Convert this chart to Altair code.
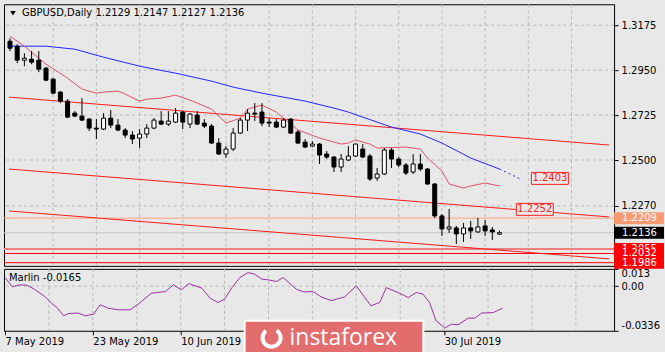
import altair as alt
import pandas as pd

# ---------------- data ----------------
bar_index = list(range(69))
opens = [1.3095, 1.3070, 1.3000, 1.3005, 1.3000, 1.2960, 1.2905, 1.2840, 1.2795, 1.2735,
         1.2720, 1.2705, 1.2660, 1.2655, 1.2710, 1.2675, 1.2650, 1.2625, 1.2610, 1.2630,
         1.2660, 1.2695, 1.2680, 1.2690, 1.2740, 1.2680, 1.2725, 1.2685, 1.2670, 1.2585,
         1.2530, 1.2555, 1.2635, 1.2700, 1.2735, 1.2740, 1.2690, 1.2690, 1.2665, 1.2705,
         1.2640, 1.2590, 1.2570, 1.2580, 1.2530, 1.2515, 1.2465, 1.2500, 1.2520, 1.2555,
         1.2520, 1.2410, 1.2430, 1.2550, 1.2505, 1.2475, 1.2440, 1.2480, 1.2455, 1.2380,
         1.2220, 1.2155, 1.2160, 1.2130, 1.2160, 1.2140, 1.2170, 1.2150, 1.2129]
highs = [1.3110, 1.3080, 1.3035, 1.3045, 1.3045, 1.2965, 1.2910, 1.2845, 1.2805, 1.2745,
         1.2810, 1.2710, 1.2705, 1.2735, 1.2750, 1.2705, 1.2660, 1.2645, 1.2655, 1.2680,
         1.2710, 1.2745, 1.2745, 1.2760, 1.2745, 1.2735, 1.2745, 1.2705, 1.2680, 1.2610,
         1.2570, 1.2660, 1.2710, 1.2755, 1.2785, 1.2785, 1.2710, 1.2705, 1.2710, 1.2710,
         1.2650, 1.2605, 1.2595, 1.2585, 1.2545, 1.2520, 1.2530, 1.2570, 1.2580, 1.2580,
         1.2530, 1.2460, 1.2560, 1.2560, 1.2515, 1.2485, 1.2530, 1.2530, 1.2460, 1.2385,
         1.2230, 1.2255, 1.2170, 1.2185, 1.2195, 1.2210, 1.2200, 1.2165, 1.2147]
lows = [1.3045, 1.2985, 1.2970, 1.2980, 1.2940, 1.2895, 1.2830, 1.2785, 1.2710, 1.2715,
        1.2695, 1.2645, 1.2605, 1.2650, 1.2660, 1.2645, 1.2610, 1.2580, 1.2560, 1.2610,
        1.2655, 1.2675, 1.2670, 1.2685, 1.2655, 1.2660, 1.2675, 1.2660, 1.2580, 1.2525,
        1.2510, 1.2545, 1.2630, 1.2645, 1.2695, 1.2670, 1.2665, 1.2660, 1.2660, 1.2630,
        1.2580, 1.2560, 1.2565, 1.2480, 1.2505, 1.2440, 1.2440, 1.2495, 1.2515, 1.2510,
        1.2395, 1.2395, 1.2425, 1.2460, 1.2465, 1.2425, 1.2430, 1.2445, 1.2375, 1.2210,
        1.2120, 1.2135, 1.2080, 1.2090, 1.2105, 1.2135, 1.2120, 1.2100, 1.2127]
closes = [1.3060, 1.3000, 1.3010, 1.2990, 1.2955, 1.2900, 1.2835, 1.2795, 1.2715, 1.2720,
          1.2700, 1.2660, 1.2655, 1.2710, 1.2675, 1.2650, 1.2625, 1.2605, 1.2630, 1.2660,
          1.2700, 1.2680, 1.2695, 1.2735, 1.2690, 1.2730, 1.2680, 1.2670, 1.2585, 1.2530,
          1.2555, 1.2635, 1.2700, 1.2735, 1.2730, 1.2685, 1.2685, 1.2665, 1.2700, 1.2635,
          1.2585, 1.2565, 1.2580, 1.2525, 1.2515, 1.2465, 1.2505, 1.2520, 1.2580, 1.2515,
          1.2405, 1.2430, 1.2550, 1.2505, 1.2475, 1.2435, 1.2480, 1.2455, 1.2380, 1.2220,
          1.2155, 1.2165, 1.2130, 1.2160, 1.2145, 1.2165, 1.2145, 1.2140, 1.2136]

ma_slow_i = [0, 5, 9, 13, 18, 23, 28, 31, 35, 41, 45, 47, 51, 53, 57, 60, 64, 68]
ma_slow_v = [1.3070, 1.3070, 1.3055, 1.3015, 1.2970, 1.2935, 1.2895, 1.2865, 1.2835, 1.2795,
             1.2760, 1.2740, 1.2690, 1.2665, 1.2630, 1.2585, 1.2510, 1.2455]
ma_proj_i = [68, 71]
ma_proj_v = [1.2455, 1.2403]

ma_fast_i = [0, 2, 5, 8, 10, 12, 13, 15, 16, 18, 19, 21, 23, 25, 28, 30, 32, 33, 35, 37,
             38, 40, 43, 46, 47, 48, 50, 51, 55, 57, 58, 60, 61, 63, 64, 66, 68]
ma_fast_v = [1.3120, 1.3070, 1.2980, 1.2910, 1.2855, 1.2835, 1.2840, 1.2845, 1.2830, 1.2795,
             1.2805, 1.2810, 1.2825, 1.2800, 1.2755, 1.2685, 1.2710, 1.2755, 1.2775, 1.2740,
             1.2710, 1.2650, 1.2610, 1.2580, 1.2585, 1.2600, 1.2580, 1.2560, 1.2565, 1.2555,
             1.2510, 1.2445, 1.2380, 1.2360, 1.2370, 1.2385, 1.2370]

channel_i = [-0.14, 83.22]
channel_upper = [1.2815, 1.2575]
channel_middle = [1.2455, 1.2215]
channel_lower = [1.2245, 1.2005]

level_values = [1.2209, 1.2136, 1.2055, 1.2032, 1.1986]
level_labels = ["1.2209", "1.2136", "1.2055", "1.2032", "1.1986"]
level_line_colors = ["#ffa07a", "#c4c4c4", "#f08080", "#ff0000", "#ff0000"]
level_line_widths = [1, 1, 2, 1, 1]
level_box_colors = ["#f79a72", "#000000", "#ff0000", "#ff0000", "#ff0000"]

annotation_labels = ["1.2403", "1.2252"]
annotation_i = [75.0, 72.9]
annotation_price = [1.2408, 1.2253]

price_ticks = [1.3175, 1.2950, 1.2725, 1.2500, 1.2270]
grid_index = [6, 12, 18, 24, 30, 36, 42, 48, 54, 60, 66, 72, 78]
# date labels visible in the picture (the two between 10 Jun and 30 Jul lie under the logo)
date_tick_index = [0, 12, 24, 60]
date_tick_labels = ["7 May 2019", "23 May 2019", "10 Jun 2019", "30 Jul 2019"]

marlin_i = [0, 1, 2, 3, 4, 5.5, 6.4, 7.1, 8, 8.7, 10, 11, 12.1, 13, 14.1, 15.5, 17.1, 18.2,
            20, 21.9, 23, 24.1, 25.1, 26.9, 28, 29.1, 30, 31, 32.1, 33.2, 34.1, 35.1, 36,
            37.1, 38, 39.8, 40.8, 42.1, 43.2, 44.6, 46.4, 48, 50, 51.2, 52.1, 53.7, 55.1,
            56.2, 57.1, 58, 58.9, 60.1, 61, 61.9, 63.3, 64.2, 65.1, 66.7, 68]
marlin_v = [0.0065, -0.0005, 0.0010, 0.0007, -0.0023, -0.0081, -0.0131, -0.0161, -0.0223,
            -0.0206, -0.0203, -0.0223, -0.0211, -0.0141, -0.0166, -0.0178, -0.0178, -0.0135,
            -0.0053, -0.0041, 0.0010, -0.0028, 0.0019, -0.0015, -0.0090, -0.0123, -0.0098,
            -0.0011, 0.0065, 0.0102, 0.0090, 0.0053, 0.0047, 0.0035, 0.0065, -0.0023,
            -0.0043, -0.0041, -0.0081, -0.0109, -0.0081, 0.0002, -0.0148, -0.0123, -0.0011,
            -0.0048, -0.0086, -0.0048, -0.0060, -0.0123, -0.0261, -0.0316, -0.0286, -0.0291,
            -0.0241, -0.0241, -0.0203, -0.0199, -0.0166]
marlin_ticks = [0.013, 0.0, -0.0336]
marlin_tick_labels = ["0.013", "0.00", "-0.0336"]

title_text = "GBPUSD,Daily  1.2129 1.2147 1.2127 1.2136"
marlin_title = "Marlin -0.0165"
watermark_text = "instaforex"

# ---------------- styling ----------------
FONT = "DejaVu Sans"
BG = "#e8e8e8"
GRID = "#b8b8b8"
W = 611
H_MAIN = 262
H_SUB = 62

xs = alt.Scale(domain=[-0.14, 83.22], nice=False, zero=False)
ys = alt.Scale(domain=[1.1970, 1.3280], nice=False, zero=False)
ms = alt.Scale(domain=[-0.0336, 0.013], nice=False, zero=False)

price_axis = alt.Axis(
    orient="right", values=price_ticks, format=".4f", grid=False, domain=False,
    tickSize=4, tickColor="black", labelPadding=3, labelFont=FONT, labelFontSize=10,
    labelColor="black", title=None, labelOverlap=False)

x_label_expr = " : ".join(
    f"datum.value == {i} ? '{t}'" for i, t in zip(date_tick_index, date_tick_labels)) + " : ''"
m_label_expr = ("datum.value > 0.005 ? '%s' : datum.value < -0.02 ? '%s' : '%s'"
                % (marlin_tick_labels[0], marlin_tick_labels[2], marlin_tick_labels[1]))

date_axis = alt.Axis(
    values=date_tick_index, labelExpr=x_label_expr, labelAlign="left", grid=False,
    domain=False, tickSize=4, tickColor="black", labelPadding=2, labelFont=FONT,
    labelFontSize=10, labelColor="black", title=None, labelFlush=False, labelOverlap=False)

marlin_axis = alt.Axis(
    orient="right", values=marlin_ticks, labelExpr=m_label_expr, grid=False,
    domain=False, tickSize=4, tickColor="black", labelPadding=3, labelFont=FONT,
    labelFontSize=10, labelColor="black", title=None, labelFlush=True, labelOverlap=False)


def X(f="i"):
    return alt.X(f"{f}:Q", scale=xs, axis=None)


def Y(f="p"):
    return alt.Y(f"{f}:Q", scale=ys, axis=price_axis)


def MX(f="i"):
    return alt.X(f"{f}:Q", scale=xs, axis=date_axis)


def MY(f="v"):
    return alt.Y(f"{f}:Q", scale=ms, axis=marlin_axis)


# ---------------- main panel ----------------
vgrid = alt.Chart(pd.DataFrame({"i": grid_index})).mark_rule(
    color=GRID, strokeDash=[3, 3], strokeWidth=1).encode(x=X())

hgrid = alt.Chart(pd.DataFrame({"p": price_ticks})).mark_rule(
    color=GRID, strokeDash=[3, 3], strokeWidth=1).encode(y=Y())

lv = pd.DataFrame({"p": level_values, "c": level_line_colors, "w": level_line_widths})
level_lines = alt.Chart(lv).mark_rule().encode(
    y=Y(), color=alt.Color("c:N", scale=None),
    strokeWidth=alt.StrokeWidth("w:Q", scale=None))

ch = pd.DataFrame({
    "i": channel_i * 3,
    "p": channel_upper + channel_middle + channel_lower,
    "k": ["u", "u", "m", "m", "l", "l"],
})
channels = alt.Chart(ch).mark_line(color="#ff1a1a", strokeWidth=1).encode(
    x=X(), y=Y(), detail="k:N")

ma_slow = alt.Chart(pd.DataFrame({"i": ma_slow_i, "p": ma_slow_v})).mark_line(
    color="#2323ff", strokeWidth=1).encode(x=X(), y=Y())
ma_proj = alt.Chart(pd.DataFrame({"i": ma_proj_i, "p": ma_proj_v})).mark_line(
    color="#2323ff", strokeWidth=1, strokeDash=[2, 3]).encode(x=X(), y=Y())
ma_fast = alt.Chart(pd.DataFrame({"i": ma_fast_i, "p": ma_fast_v})).mark_line(
    color="#e0506a", strokeWidth=1).encode(x=X(), y=Y())

cd = pd.DataFrame({"i": bar_index, "o": opens, "h": highs, "l": lows, "c": closes})
wicks = alt.Chart(cd).mark_rule(color="black", strokeWidth=1).encode(
    x=X(), y=Y("l"), y2="h:Q")
bodies = alt.Chart(cd).mark_bar(size=4, stroke="black", strokeWidth=1).encode(
    x=X(), y=Y("o"), y2="c:Q",
    fill=alt.condition("datum.c >= datum.o", alt.value("white"), alt.value("black")))

an = pd.DataFrame({"i": annotation_i, "p": annotation_price, "t": annotation_labels})
ann_box = alt.Chart(an).mark_tick(
    orient="horizontal", size=37, thickness=12, fill=BG, stroke="#ff2020",
    strokeWidth=1, opacity=1).encode(x=X(), y=Y())
ann_text = alt.Chart(an).mark_text(
    color="#ff2020", font=FONT, fontSize=10, align="center", baseline="middle").encode(
    x=X(), y=Y(), text="t:N")

label_layers = []
for v, t, c in zip(level_values, level_labels, level_box_colors):
    d = pd.DataFrame({"p": [v], "t": [t]})
    label_layers.append(alt.Chart(d).mark_tick(
        orient="horizontal", size=50, thickness=12, color=c, opacity=1).encode(
        x=alt.value(636), y=Y()))
    label_layers.append(alt.Chart(d).mark_text(
        color="white", font=FONT, fontSize=10, align="left", baseline="middle").encode(
        x=alt.value(619), y=Y(), text="t:N"))

title_df = pd.DataFrame({"t": [title_text]})
title = alt.Chart(title_df).mark_text(
    color="black", font=FONT, fontSize=10, align="left", baseline="middle").encode(
    x=alt.value(18), y=alt.value(9), text="t:N")
tri = alt.Chart(title_df).mark_point(
    shape="triangle-down", size=30, filled=True, color="black", opacity=1).encode(
    x=alt.value(9), y=alt.value(9))

main = alt.layer(
    vgrid, hgrid, level_lines, channels, ma_slow, ma_proj, ma_fast, wicks, bodies,
    ann_box, ann_text, *label_layers, title, tri
).properties(width=W, height=H_MAIN)

# ---------------- Marlin panel ----------------
m_vgrid = alt.Chart(pd.DataFrame({"i": grid_index})).mark_rule(
    color=GRID, strokeDash=[3, 3], strokeWidth=1).encode(x=MX())
m_zero = alt.Chart(pd.DataFrame({"v": [0.0]})).mark_rule(
    color=GRID, strokeDash=[3, 3], strokeWidth=1).encode(y=MY())

m_line = alt.Chart(pd.DataFrame({"i": marlin_i, "v": marlin_v})).mark_line(
    color="#9b2fa0", strokeWidth=1).encode(x=MX(), y=MY())

m_title = alt.Chart(pd.DataFrame({"t": [marlin_title]})).mark_text(
    color="black", font=FONT, fontSize=10, align="left", baseline="middle").encode(
    x=alt.value(5), y=alt.value(9), text="t:N")

wm = pd.DataFrame({"t": [watermark_text]})
wm_box = alt.Chart(wm).mark_rect(
    fill="#e36d6d", stroke="white", strokeWidth=2, opacity=1).encode(
    x=alt.value(241), x2=alt.value(420), y=alt.value(52), y2=alt.value(90))
wm_logo = alt.Chart(wm).mark_arc(
    color="white", innerRadius=7, outerRadius=11, theta=0.6, theta2=5.6).encode(
    x=alt.value(268), y=alt.value(69))
wm_text = alt.Chart(wm).mark_text(
    color="white", font="Open Sans", fontSize=23, align="left", baseline="middle").encode(
    x=alt.value(286), y=alt.value(69), text="t:N")

sub = alt.layer(m_vgrid, m_zero, m_line, m_title, wm_box, wm_logo, wm_text).properties(
    width=W, height=H_SUB)

chart = alt.vconcat(main, sub, spacing=3, bounds="flush").properties(
    background=BG, padding={"left": 2, "top": 3, "right": 0, "bottom": 0}
).configure_view(stroke="black", strokeWidth=1).configure_axis(
    labelFont=FONT, labelFontSize=10)

chart.save("out.html", embed_options={"renderer": "svg", "actions": False})
